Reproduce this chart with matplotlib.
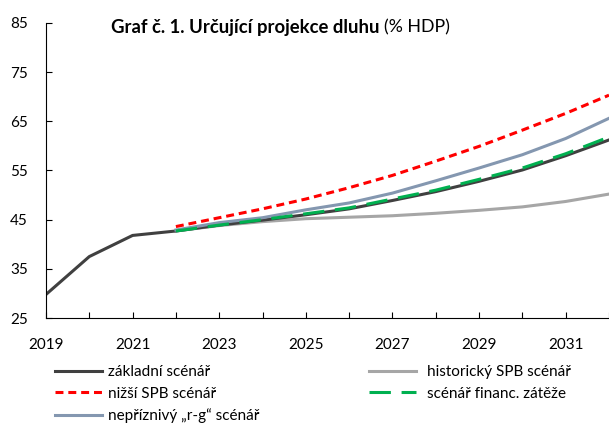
import matplotlib.pyplot as plt

plt.rcParams["font.family"] = ["Lato", "DejaVu Sans"]

# Data (% HDP)
roky = list(range(2019, 2033))
roky_proj = list(range(2022, 2033))

zakladni = [29.8, 37.5, 41.8, 42.7, 43.9, 44.9, 46.0, 47.2, 48.9, 50.7, 52.8, 55.1, 58.0, 61.2]
historicky = [42.7, 43.8, 44.6, 45.2, 45.5, 45.8, 46.3, 46.9, 47.6, 48.7, 50.2]
nizsi_spb = [43.6, 45.4, 47.2, 49.2, 51.5, 54.0, 56.9, 59.9, 63.2, 66.6, 70.3]
financ = [42.7, 43.9, 45.0, 46.2, 47.4, 49.2, 51.0, 53.2, 55.5, 58.4, 61.8]
nepriznivy = [42.9, 44.4, 45.4, 47.0, 48.4, 50.4, 52.9, 55.5, 58.2, 61.5, 65.6]

fig = plt.figure(figsize=(6.09, 4.23), dpi=100)
ax = fig.add_axes([0.0755, 0.248, 0.9245, 0.698])

l_hist, = ax.plot(roky_proj, historicky, color="#a6a6a6", lw=2.2, label="historický SPB scénář")
l_zakl, = ax.plot(roky, zakladni, color="#404040", lw=2.2, label="základní scénář")
l_nep, = ax.plot(roky_proj, nepriznivy, color="#8497b0", lw=2.2, label="nepříznivý „r-g“ scénář")
l_fin, = ax.plot(roky_proj, financ, color="#00b050", lw=2.2, dashes=(7, 3.5), label="scénář financ. zátěže")
l_niz, = ax.plot(roky_proj, nizsi_spb, color="#ff0000", lw=2.2, dashes=(2.6, 1.6), label="nižší SPB scénář")

ax.set_xlim(2019, 2032)
ax.set_ylim(25, 85)
ax.set_yticks(range(25, 86, 10))
ax.set_xticks(roky)
ax.set_xticklabels([str(r) if r % 2 == 1 else "" for r in roky])
ax.spines["top"].set_visible(False)
ax.spines["right"].set_visible(False)
ax.tick_params(axis="both", direction="in", length=4, labelsize=11)
ax.tick_params(axis="y", pad=13)
ax.tick_params(axis="x", pad=14)

# Titulek: tucna cast + normalni cast
t1 = fig.text(0.182, 0.935, "Graf č. 1. Určující projekce dluhu", fontsize=13.3,
              fontweight="bold", va="center")
fig.canvas.draw()
bb = t1.get_window_extent()
fig.text(bb.x1 / fig.bbox.width + 0.008, 0.935, "(% HDP)", fontsize=12.8, va="center")

# Legenda ve dvou sloupcich (fig.legend uz je pridana do figury)
fig.legend(handles=[l_zakl, l_niz, l_nep], loc="upper left",
           bbox_to_anchor=(0.09, 0.137), frameon=False, fontsize=11,
           handlelength=3.1, handletextpad=0.35, labelspacing=0.5,
           borderpad=0, borderaxespad=0)
fig.legend(handles=[l_hist, l_fin], loc="upper left",
           bbox_to_anchor=(0.606, 0.137), frameon=False, fontsize=11,
           handlelength=3.1, handletextpad=0.7, labelspacing=0.5,
           borderpad=0, borderaxespad=0)

fig.savefig("out.png", dpi=100)
